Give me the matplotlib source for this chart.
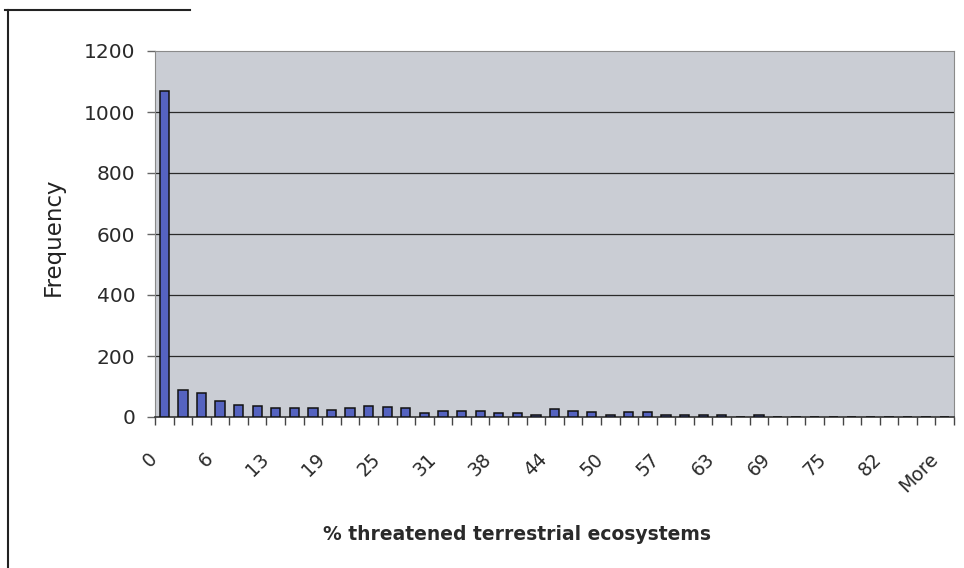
import matplotlib
matplotlib.use("Agg")
import matplotlib.pyplot as plt
from matplotlib.lines import Line2D
from matplotlib.transforms import ScaledTranslation
import numpy as np

# Histogram of % threatened terrestrial ecosystems (43 bins, last one "More")
counts = [1070, 90, 78, 53, 38, 35, 30, 30, 31, 22, 29, 36, 32, 28, 14, 21,
          20, 20, 14, 13, 8, 27, 21, 15, 8, 16, 16, 8, 8, 8, 8, 0, 7,
          0, 0, 0, 0, 0, 0, 0, 0, 0, 0]
# Every third bin carries a label
bin_labels = ["0", "6", "13", "19", "25", "31", "38", "44", "50", "57",
              "63", "69", "75", "82", "More"]
y_ticks = [0, 200, 400, 600, 800, 1000, 1200]

W, H = 964, 568
fig = plt.figure(figsize=(W / 100, H / 100), dpi=100, facecolor="white")
ax = fig.add_axes([155 / W, 1 - 417 / H, (954 - 155) / W, (417 - 51) / H])
ax.set_facecolor("#cacdd4")

x = np.arange(len(counts))
ax.bar(x, counts, width=0.5, color="#5563c0", edgecolor="#111111",
       linewidth=1.1, zorder=3)

ax.set_xlim(-0.5, len(counts) - 0.5)
ax.set_ylim(0, 1200)
ax.set_yticks(y_ticks)
ax.set_yticklabels([str(v) for v in y_ticks], fontsize=14.5, color="#2a2a2a")
for v in y_ticks[1:-1]:
    ax.axhline(v, color="#2a2a2a", linewidth=0.9, zorder=1)

label_pos = x[::3]
ax.set_xticks(label_pos)
ax.set_xticklabels(bin_labels, rotation=45, ha="right", va="center",
                   rotation_mode="anchor", fontsize=13.5, color="#2a2a2a")
ax.tick_params(axis="x", length=0, pad=28)
shift = ScaledTranslation(-10 / 100, 0, fig.dpi_scale_trans)
for lbl in ax.get_xticklabels():
    lbl.set_transform(lbl.get_transform() + shift)
ax.set_xticks(np.arange(len(counts) + 1) - 0.5, minor=True)
ax.tick_params(axis="x", which="minor", length=6, color="#444444", width=1)
ax.tick_params(axis="y", length=6, color="#666666", width=1, pad=8)

for side in ["top", "right", "left"]:
    ax.spines[side].set_color("#8a8a8a")
ax.spines["bottom"].set_color("#333333")
ax.spines["bottom"].set_linewidth(1.2)

fig.text(53 / W, 1 - 237 / H, "Frequency", rotation=90, ha="center",
         va="center", fontsize=16.5, color="#222222")
fig.text(517 / W, 1 - 535 / H, "% threatened terrestrial ecosystems",
         ha="center", va="center", fontsize=13.5, fontweight="bold",
         color="#2a2a2a")

# Chart-area frame (left edge and part of the top edge)
fig.add_artist(Line2D([8 / W, 8 / W], [1 - 10 / H, 0], transform=fig.transFigure,
                      color="#222222", linewidth=1.5))
fig.add_artist(Line2D([5 / W, 190 / W], [1 - 10 / H, 1 - 10 / H],
                      transform=fig.transFigure, color="#222222", linewidth=1.5))

fig.savefig("out.png", dpi=100, facecolor="white")
